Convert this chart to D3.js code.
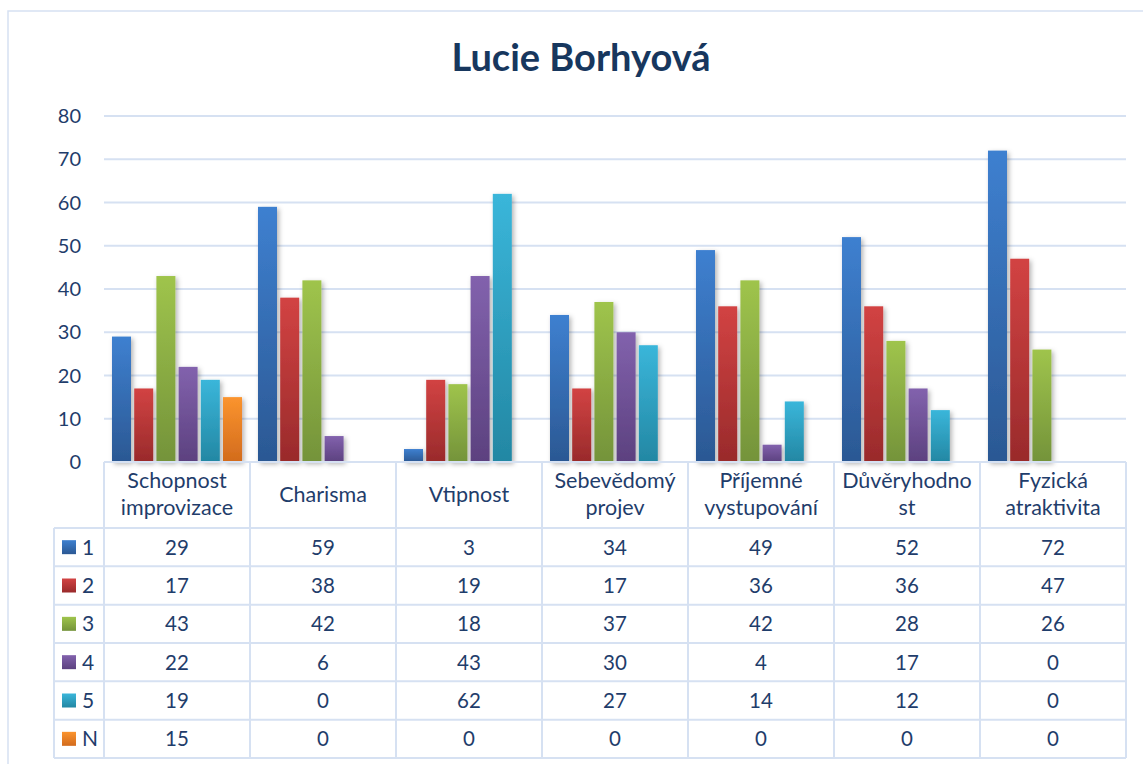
<!DOCTYPE html>
<html>
<head>
<meta charset="utf-8">
<script src="https://cdn.jsdelivr.net/npm/d3@7"></script>
<style>
  body { margin: 0; background: #fff; }
  svg { display: block; font-family: Lato, "Open Sans", sans-serif; }
</style>
</head>
<body>
<div id="chart"></div>
<script>
const categories = [
  ["Schopnost", "improvizace"],
  ["Charisma"],
  ["Vtipnost"],
  ["Sebevědomý", "projev"],
  ["Příjemné", "vystupování"],
  ["Důvěryhodno", "st"],
  ["Fyzická", "atraktivita"],
];
const seriesNames = ["1", "2", "3", "4", "5", "N"];
const values1 = [29, 59, 3, 34, 49, 52, 72];
const values2 = [17, 38, 19, 17, 36, 36, 47];
const values3 = [43, 42, 18, 37, 42, 28, 26];
const values4 = [22, 6, 43, 30, 4, 17, 0];
const values5 = [19, 0, 62, 27, 14, 12, 0];
const valuesN = [15, 0, 0, 0, 0, 0, 0];
const yTicks = [0, 10, 20, 30, 40, 50, 60, 70, 80];

const allValues = [values1, values2, values3, values4, values5, valuesN];
const colorsTop = ["#3e80d0", "#d24343", "#9fc44c", "#8262ad", "#3ab6da", "#fb942e"];
const colorsBottom = ["#2b5893", "#992a2b", "#74933a", "#5c417f", "#2387a3", "#d26b1d"];

const W = 1143, H = 764;
const textColor = "#1f3d6b";
const lineColor = "#d6e1f2";

const svg = d3.select("#chart").append("svg").attr("width", W).attr("height", H);
const defs = svg.append("defs");

seriesNames.forEach((s, i) => {
  const g = defs.append("linearGradient").attr("id", "grad" + i)
    .attr("x1", 0).attr("y1", 0).attr("x2", 0).attr("y2", 1);
  g.append("stop").attr("offset", "0%").attr("stop-color", colorsTop[i]);
  g.append("stop").attr("offset", "100%").attr("stop-color", colorsBottom[i]);
});
defs.append("filter").attr("id", "shadow").attr("x", "-30%").attr("y", "-10%").attr("width", "170%").attr("height", "130%")
  .append("feDropShadow").attr("dx", 2).attr("dy", 2).attr("stdDeviation", 2.5)
  .attr("flood-color", "#000").attr("flood-opacity", 0.3);

// outer frame
svg.append("rect").attr("x", 8).attr("y", 11).attr("width", W).attr("height", H)
  .attr("fill", "none").attr("stroke", lineColor).attr("stroke-width", 1.5);

// title
svg.append("text").attr("x", 581).attr("y", 71).attr("text-anchor", "middle")
  .attr("font-size", 38).attr("font-weight", "bold").attr("fill", "#17375e")
  .text("Lucie Borhyová");

const plotLeft = 104, plotRight = 1126, plotTop = 116, plotBottom = 462;
const y = d3.scaleLinear().domain([0, 80]).range([plotBottom, plotTop]);
const x = d3.scaleBand().domain(d3.range(categories.length)).range([plotLeft, plotRight]);
const xs = d3.scaleBand().domain(seriesNames).range([0, x.bandwidth()]).paddingInner(0.144).paddingOuter(0.36);

// grid lines
svg.append("g").selectAll("line").data(yTicks.filter(d => d > 0)).join("line")
  .attr("x1", plotLeft).attr("x2", plotRight)
  .attr("y1", d => y(d)).attr("y2", d => y(d))
  .attr("stroke", lineColor).attr("stroke-width", 2);

// y labels
svg.append("g").selectAll("text").data(yTicks).join("text")
  .attr("x", 81).attr("y", d => y(d)).attr("dy", "0.36em")
  .attr("text-anchor", "end").attr("font-size", 20).attr("fill", textColor)
  .text(d => d);

// bars
const barG = svg.append("g").attr("filter", "url(#shadow)");
seriesNames.forEach((s, si) => {
  barG.append("g").selectAll("rect").data(allValues[si]).join("rect")
    .attr("x", (d, ci) => x(ci) + xs(s))
    .attr("width", xs.bandwidth())
    .attr("y", d => y(d))
    .attr("height", d => plotBottom - y(d))
    .attr("fill", `url(#grad${si})`);
});

// data table
const headerTop = plotBottom, headerBottom = 528;
const rowH = (758 - headerBottom) / seriesNames.length;
const legLeft = 54;
const table = svg.append("g");

// category labels
categories.forEach((lines, ci) => {
  const cx = x(ci) + x.bandwidth() / 2;
  const t = table.append("text").attr("text-anchor", "middle").attr("font-size", 21.5).attr("fill", textColor);
  const baseY = lines.length === 2 ? 488 : 502;
  lines.forEach((ln, li) => {
    t.append("tspan").attr("x", cx).attr("y", baseY + li * 27).text(ln);
  });
});

// rows
seriesNames.forEach((s, si) => {
  const ry = headerBottom + si * rowH;
  const cy = ry + rowH / 2;
  table.append("rect").attr("x", 62).attr("y", cy - 7).attr("width", 14).attr("height", 14)
    .attr("fill", `url(#grad${si})`);
  table.append("text").attr("x", 82).attr("y", cy).attr("dy", "0.36em")
    .attr("font-size", 21).attr("fill", textColor).text(s);
  table.append("g").selectAll("text").data(allValues[si]).join("text")
    .attr("x", (d, ci) => x(ci) + x.bandwidth() / 2).attr("y", cy).attr("dy", "0.36em")
    .attr("text-anchor", "middle").attr("font-size", 20.5).attr("fill", textColor)
    .text(d => d);
});

// table lines
const hLines = [{ y: headerTop, x1: plotLeft }].concat(
  d3.range(seriesNames.length + 1).map(i => ({ y: headerBottom + i * rowH, x1: legLeft })));
table.append("g").selectAll("line").data(hLines).join("line")
  .attr("x1", d => d.x1).attr("x2", plotRight).attr("y1", d => d.y).attr("y2", d => d.y)
  .attr("stroke", lineColor).attr("stroke-width", 2);
const vLines = d3.range(categories.length + 1).map(i => ({ x: plotLeft + i * x.bandwidth(), y1: headerTop }))
  .concat([{ x: legLeft, y1: headerBottom }]);
table.append("g").selectAll("line").data(vLines).join("line")
  .attr("x1", d => d.x).attr("x2", d => d.x).attr("y1", d => d.y1).attr("y2", headerBottom + seriesNames.length * rowH)
  .attr("stroke", lineColor).attr("stroke-width", 2);
</script>
</body>
</html>
